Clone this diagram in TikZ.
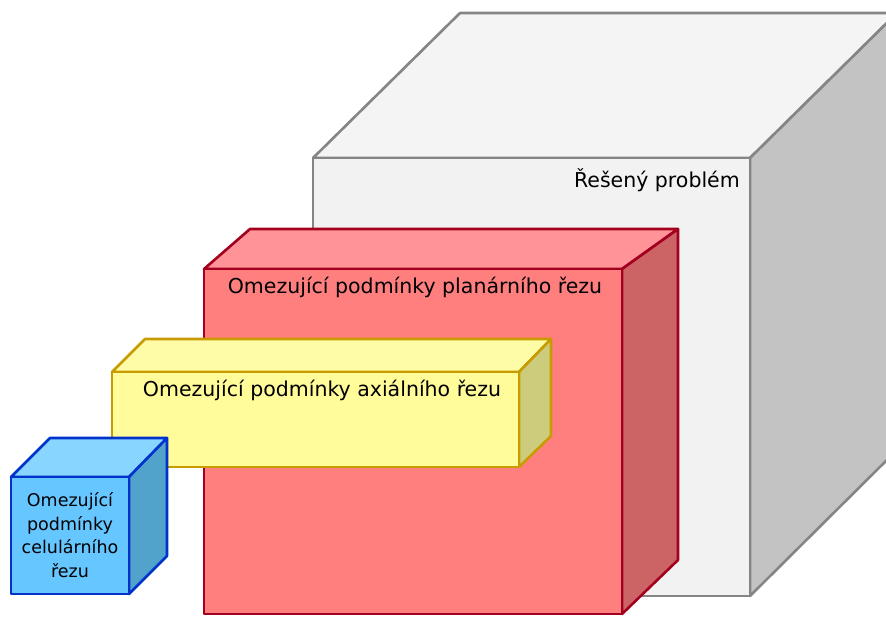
\documentclass[tikz,border=0pt]{standalone}
\usepackage{fontspec}
\setmainfont{DejaVu Sans}
\definecolor{gfront}{HTML}{F2F2F2}
\definecolor{gtop}{HTML}{F4F4F4}
\definecolor{gside}{HTML}{C3C3C3}
\definecolor{gline}{HTML}{858585}
\definecolor{rfront}{HTML}{FF7F7F}
\definecolor{rtop}{HTML}{FF9397}
\definecolor{rside}{HTML}{CC6466}
\definecolor{rline}{HTML}{A3001F}
\definecolor{yfront}{HTML}{FFFC99}
\definecolor{ytop}{HTML}{FFFCA8}
\definecolor{yside}{HTML}{CCCC7C}
\definecolor{yline}{HTML}{C89B00}
\definecolor{bfront}{HTML}{66C6FF}
\definecolor{btop}{HTML}{88D5FF}
\definecolor{bside}{HTML}{52A3CC}
\definecolor{bline}{HTML}{0033CC}
\tikzset{
  face/.style={line width=2.6pt, line join=round},
  lbl/.style={inner sep=0pt, font=\fontsize{20.5}{24}\selectfont, text=black},
}
\begin{document}
\begin{tikzpicture}[x=1pt,y=-1pt]
\useasboundingbox (0,0) rectangle (886,616);
\clip (0,0) rectangle (886,616);
% gray cube
\draw[face, draw=gline, fill=gtop] (313,158) -- (460,13) -- (897,13) -- (750,158) -- cycle;
\draw[face, draw=gline, fill=gside] (750,158) -- (897,13) -- (897,450) -- (750,596) -- cycle;
\draw[face, draw=gline, fill=gfront] (313,158) rectangle (750,596);
\node[lbl, anchor=east] (gray) at (740,180) {Řešený problém};
% red cube
\draw[face, draw=rline, fill=rtop] (204,269) -- (250,229) -- (678,229) -- (622,269) -- cycle;
\draw[face, draw=rline, fill=rside] (622,269) -- (678,229) -- (678,560) -- (622,614) -- cycle;
\draw[face, draw=rline, fill=rfront] (204,269) rectangle (622,614);
\node[lbl] (red) at (415,287) {Omezující podmínky planárního řezu};
% yellow box
\draw[face, draw=yline, fill=ytop] (112,372) -- (145,339) -- (551,339) -- (519,372) -- cycle;
\draw[face, draw=yline, fill=yside] (519,372) -- (551,339) -- (551,436) -- (519,467) -- cycle;
\draw[face, draw=yline, fill=yfront] (112,372) rectangle (519,467);
\node[lbl] (yellow) at (322,390) {Omezující podmínky axiálního řezu};
% blue cube
\draw[face, draw=bline, fill=btop] (11,477) -- (50,438) -- (167,438) -- (129,477) -- cycle;
\draw[face, draw=bline, fill=bside] (129,477) -- (167,438) -- (167,556) -- (129,594) -- cycle;
\draw[face, draw=bline, fill=bfront] (11,477) rectangle (129,594);
\node[lbl, align=center, font=\fontsize{17.5}{23.5}\selectfont] (blue) at (70,535) {Omezující\\podmínky\\celulárního\\řezu};
\end{tikzpicture}
\end{document}
